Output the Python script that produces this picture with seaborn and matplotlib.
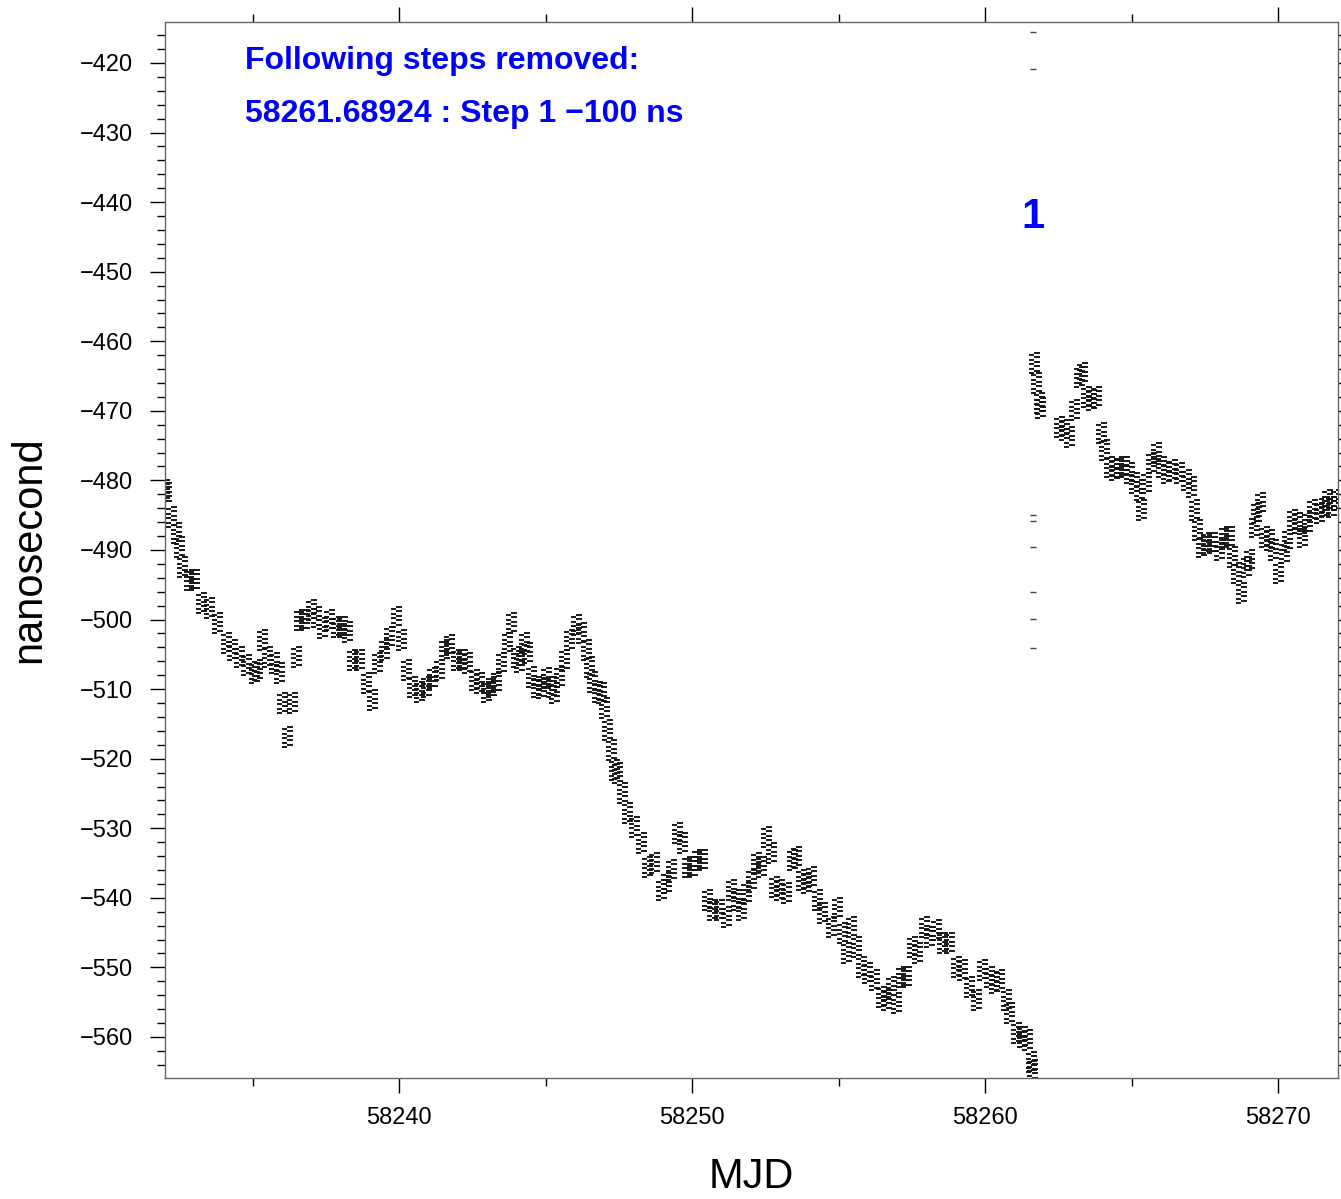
import numpy as np
import pandas as pd
import matplotlib
matplotlib.use('Agg')
import matplotlib.pyplot as plt
import seaborn as sns
from matplotlib.path import Path
from matplotlib.ticker import MultipleLocator

# Time offsets are days since MJD 58232, values in ns
mjd0 = 58232.0

days_before = [0.00, 0.07, 0.24, 0.41, 0.51, 0.61, 0.85, 1.02, 1.26, 1.54,
               1.81, 2.12, 2.32, 2.56, 2.80, 3.07, 3.17, 3.34, 3.52, 3.75,
               3.92, 4.03, 4.20, 4.37, 4.51, 4.61, 4.78, 5.02, 5.19, 5.39,
               5.63, 5.87, 6.08, 6.25, 6.42, 6.66, 6.89, 7.10, 7.27, 7.51,
               7.68, 7.92, 8.09, 8.26, 8.46, 8.70, 8.94, 9.15, 9.39, 9.56,
               9.73, 9.97, 10.17, 10.34, 10.58, 10.75, 10.99, 11.16, 11.33, 11.50,
               11.71, 11.84, 12.01, 12.12, 12.29, 12.39, 12.53, 12.70, 12.87, 13.04,
               13.21, 13.31, 13.48, 13.65, 13.82, 14.06, 14.23, 14.40, 14.51, 14.61,
               14.78, 14.91, 15.02, 15.12, 15.26, 15.36, 15.46, 15.63, 15.80, 16.04,
               16.28, 16.48, 16.72, 16.96, 17.13, 17.30, 17.51, 17.68, 17.85, 18.02,
               18.19, 18.36, 18.53, 18.70, 18.94, 19.18, 19.35, 19.52, 19.69, 19.86,
               20.03, 20.20, 20.38, 20.55, 20.72, 20.82, 20.99, 21.23, 21.43, 21.57,
               21.74, 21.91, 22.08, 22.29, 22.46, 22.76, 22.97, 23.14, 23.28, 23.45,
               23.62, 23.79, 23.99, 24.23, 24.47, 24.64, 24.81, 24.98, 25.15, 25.32,
               25.53, 25.70, 25.94, 26.11, 26.35, 26.55, 26.79, 27.03, 27.24, 27.47,
               27.71, 27.92, 28.16, 28.33, 28.50, 28.74, 28.84, 29.08, 29.28, 29.45,
               29.59, 29.62]
ns_before = [-481.4, -481.8, -485.3, -487.6, -489.6, -492.4, -494.3, -494.3, -497.6, -498.3,
             -500.5, -503.4, -504.4, -505.4, -506.5, -507.7, -507.3, -502.9, -505.4, -506.2,
             -507.7, -512.0, -516.9, -512.0, -505.4, -500.1, -500.1, -498.6, -499.6, -501.2,
             -500.1, -501.1, -501.1, -501.8, -505.8, -505.8, -509.1, -511.6, -506.2, -504.4,
             -502.5, -499.6, -502.9, -507.3, -509.7, -510.4, -509.7, -508.4, -507.3, -504.4,
             -503.7, -505.8, -505.8, -506.2, -508.7, -509.1, -510.4, -509.7, -509.0, -506.2,
             -503.4, -500.5, -505.4, -506.1, -503.4, -504.8, -508.3, -509.7, -509.8, -508.4,
             -509.7, -510.6, -508.3, -505.8, -502.9, -500.8, -501.9, -504.4, -506.8, -509.0,
             -510.4, -510.6, -512.7, -515.9, -518.7, -521.6, -522.1, -524.9, -527.8, -529.8,
             -532.1, -535.6, -535.0, -538.9, -537.9, -536.0, -530.7, -532.1, -535.6, -535.6,
             -534.6, -534.6, -540.3, -541.7, -541.7, -542.8, -538.9, -540.3, -541.7, -539.3,
             -537.4, -535.0, -535.6, -531.3, -533.6, -538.4, -538.9, -539.3, -534.6, -534.1,
             -537.4, -537.9, -537.0, -540.3, -542.2, -544.2, -541.5, -545.1, -547.9, -544.2,
             -547.1, -549.9, -550.8, -551.8, -554.3, -554.7, -552.8, -555.1, -551.4, -551.4,
             -547.1, -547.9, -544.2, -545.6, -544.6, -546.5, -546.5, -549.9, -550.4, -552.8,
             -554.7, -550.4, -551.4, -552.2, -551.8, -554.7, -556.6, -559.4, -560.0, -560.4,
             -563.6, -564.7]

days_after = [29.69, 29.76, 29.86, 29.90, 30.55, 30.72, 30.89, 31.06, 31.23, 31.33,
              31.47, 31.64, 31.81, 31.98, 32.08, 32.25, 32.42, 32.59, 32.76, 32.94,
              33.11, 33.28, 33.34, 33.52, 33.69, 33.86, 34.03, 34.20, 34.40, 34.64,
              34.88, 35.05, 35.15, 35.26, 35.39, 35.56, 35.77, 36.01, 36.18, 36.35,
              36.45, 36.59, 36.76, 36.93, 37.03, 37.20, 37.30, 37.41, 37.54, 37.71,
              37.88, 38.05, 38.23, 38.33, 38.50, 38.67, 38.84, 39.01, 39.18, 39.42,
              39.59, 39.69, 39.86, 40.00]
ns_after = [-463.1, -466.0, -468.9, -469.6, -472.3, -472.8, -473.8, -469.9, -465.1, -464.6,
            -468.0, -468.4, -468.0, -473.2, -475.6, -478.1, -478.5, -478.1, -478.1, -478.9,
            -480.4, -481.4, -484.3, -480.4, -477.5, -476.1, -478.1, -478.9, -478.5, -478.9,
            -479.9, -481.0, -484.3, -487.1, -489.6, -489.0, -489.0, -490.0, -488.1, -488.1,
            -491.0, -493.3, -496.2, -492.4, -491.4, -486.7, -484.7, -483.2, -488.1, -488.6,
            -490.0, -493.3, -490.4, -488.6, -485.7, -486.1, -488.1, -486.1, -484.3, -484.7,
            -483.8, -482.8, -483.8, -482.8]

# stray single samples right at the step
days_stray = [29.62, 29.62, 29.62, 29.62, 29.62, 29.62, 29.62, 29.62]
ns_stray = [-415.5, -420.9, -485.0, -485.8, -489.6, -496.0, -499.9, -504.1]

step_mjd = 58261.68924
step_text = 'Following steps removed:'
step_line = '58261.68924 : Step 1 \u2212100 ns'

sns.set_style('ticks')
plt.rcParams['font.family'] = ['Liberation Sans', 'DejaVu Sans']
plt.rcParams['axes.unicode_minus'] = True
plt.rcParams['text.color'] = 'black'
plt.rcParams['axes.labelcolor'] = 'black'
plt.rcParams['xtick.color'] = 'black'
plt.rcParams['ytick.color'] = 'black'

df = pd.DataFrame({
    'mjd': mjd0 + np.array(days_before + days_after),
    'ns': ns_before + ns_after,
})
df_stray = pd.DataFrame({'mjd': mjd0 + np.array(days_stray), 'ns': ns_stray})

# marker made of short stacked dashes, mimics the dense dash cloud of the original
verts, codes = [], []
for i, yy in enumerate(np.linspace(-1, 1, 10)):
    x0, x1 = (-0.55, -0.05) if i % 2 == 0 else (-0.05, 0.45)
    verts += [(x0, yy), (x1, yy)]
    codes += [Path.MOVETO, Path.LINETO]
dash_cloud = Path(verts, codes)

fig = plt.figure(figsize=(13.41, 11.99), dpi=100)
ax = fig.add_axes([0.1230, 0.1009, 0.8748, 0.8808])

sns.scatterplot(data=df, x='mjd', y='ns', marker=dash_cloud, s=14.5 ** 2,
                color='#111111', edgecolor='#111111', linewidth=1.35,
                legend=False, ax=ax)
sns.scatterplot(data=df_stray, x='mjd', y='ns', marker='_', s=4 ** 2,
                color='#444444', edgecolor='#444444', linewidth=1.0,
                legend=False, ax=ax)

ax.set_xlim(58232.0, 58272.05)
ax.set_ylim(-565.9, -414.1)

ax.xaxis.set_major_locator(MultipleLocator(10))
ax.xaxis.set_minor_locator(MultipleLocator(5))
ax.yaxis.set_major_locator(MultipleLocator(10))
ax.yaxis.set_minor_locator(MultipleLocator(2))
ax.tick_params(which='both', direction='out', top=True, right=True,
               labeltop=False, labelright=False, width=1.0, color='black',
               labelcolor='black')
ax.tick_params(which='major', length=11, labelsize=17)
ax.tick_params(which='minor', length=5.5)
ax.tick_params(axis='y', which='major', pad=12)
ax.tick_params(axis='x', which='major', pad=10)

for side in ['left', 'right', 'top', 'bottom']:
    ax.spines[side].set_visible(True)
    ax.spines[side].set_color('#666666')
    ax.spines[side].set_linewidth(1.0)

ax.text(58234.73, -419.7, step_text, color='blue', fontsize=23,
        fontweight='bold', ha='left', va='center')
ax.text(58234.73, -427.3, step_line, color='blue', fontsize=23,
        fontweight='bold', ha='left', va='center')
ax.text(step_mjd - 0.07, -442.2, '1', color='blue', fontsize=30,
        fontweight='bold', ha='center', va='center')

ax.set_xlabel('MJD', fontsize=30, labelpad=20, color='black')
ax.set_ylabel('nanosecond', fontsize=30, labelpad=22, color='black')

fig.savefig('out.png', dpi=100)
